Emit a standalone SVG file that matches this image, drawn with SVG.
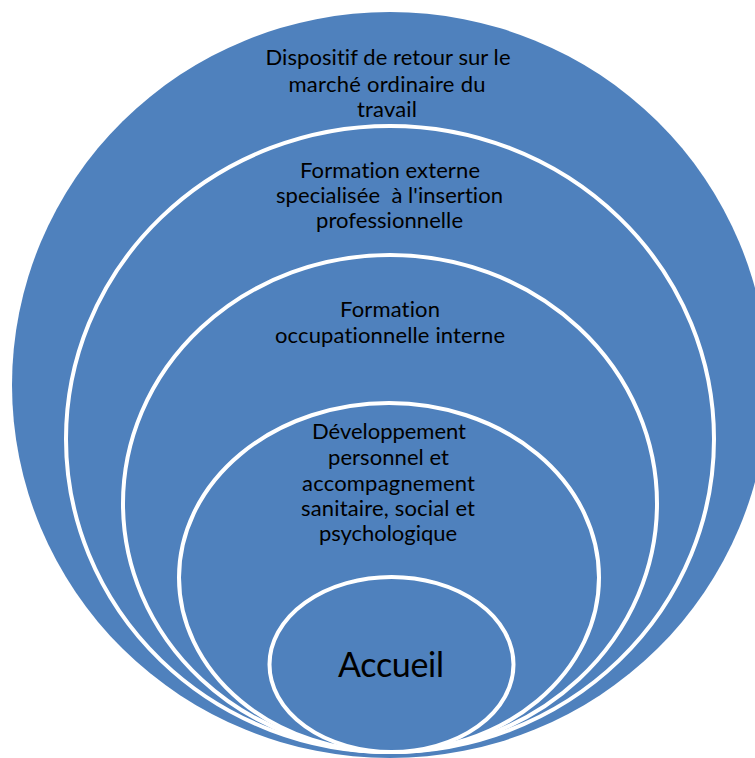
<svg xmlns="http://www.w3.org/2000/svg" width="755" height="758" viewBox="0 0 755 758">
  <style>
    .ring { fill: #4F81BD; stroke: #FFFFFF; stroke-width: 4; }
    .outer { fill: #4F81BD; stroke: none; }
    .lbl { font-family: Lato, "Liberation Sans", sans-serif; font-size: 22px; fill: #000000; text-anchor: middle; white-space: pre; font-variant-ligatures: none; font-feature-settings: "liga" 0; }
    .big { font-size: 34px; }
  </style>
  <rect x="0" y="0" width="755" height="758" fill="#FFFFFF"/>
  <g id="node-dispositif">
    <ellipse class="outer" cx="390" cy="385" rx="378" ry="373"/>
    <text class="lbl" x="388" y="65" textLength="245">Dispositif de retour sur le</text>
    <text class="lbl" x="387" y="92" textLength="197">marché ordinaire du</text>
    <text class="lbl" x="387" y="117" textLength="60">travail</text>
  </g>
  <g id="node-formation-externe">
    <ellipse class="ring" cx="390" cy="439" rx="324" ry="313"/>
    <text class="lbl" x="390" y="178" textLength="180">Formation externe</text>
    <text class="lbl" x="389.5" y="203" textLength="227" xml:space="preserve">specialisée  à l'insertion</text>
    <text class="lbl" x="389.5" y="228" textLength="147">professionnelle</text>
  </g>
  <g id="node-formation-interne">
    <ellipse class="ring" cx="390" cy="503.5" rx="267" ry="248.5"/>
    <text class="lbl" x="390" y="317" textLength="100">Formation</text>
    <text class="lbl" x="390" y="343" textLength="230">occupationnelle interne</text>
  </g>
  <g id="node-developpement">
    <ellipse class="ring" cx="389" cy="577.5" rx="210" ry="174.5"/>
    <text class="lbl" x="389" y="439" textLength="154">Développement</text>
    <text class="lbl" x="388.5" y="465" textLength="121">personnel et</text>
    <text class="lbl" x="388.5" y="491" textLength="173">accompagnement</text>
    <text class="lbl" x="388" y="516" textLength="174">sanitaire, social et</text>
    <text class="lbl" x="388" y="541" textLength="138">psychologique</text>
  </g>
  <g id="node-accueil">
    <ellipse class="ring" cx="391.5" cy="664.5" rx="122" ry="87.5"/>
    <text class="lbl big" x="391" y="677" textLength="106">Accueil</text>
  </g>
</svg>
